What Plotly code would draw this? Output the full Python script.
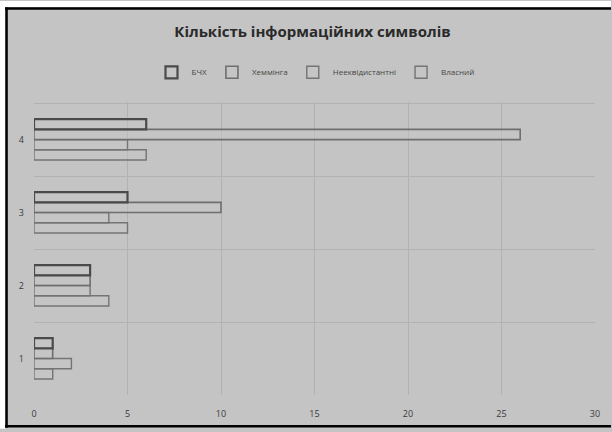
import plotly.graph_objects as go

categories = [1, 2, 3, 4]
category_labels = ["1", "2", "3", "4"]
series_names = ["БЧХ", "Хеммінга", "Нееквідистантні", "Власний"]
bch = [1, 3, 5, 6]
hamming = [1, 3, 10, 26]
nonequid = [2, 3, 4, 5]
own = [1, 4, 5, 6]
x_ticks = [0, 5, 10, 15, 20, 25, 30]

series_values = [bch, hamming, nonequid, own]
line_colors = ["#4a4a4a", "#6e6e6e", "#747474", "#747474"]
line_widths = [2.2, 1.6, 1.4, 1.4]

BG = "#c4c4c4"

fig = go.Figure()
# add in reverse so first series sits on top of each cluster
for name, vals, lc, lw in reversed(list(zip(series_names, series_values, line_colors, line_widths))):
    fig.add_trace(go.Bar(
        y=categories, x=vals, name=name, orientation="h",
        marker=dict(color="rgba(200,200,200,0.35)", line=dict(color=lc, width=lw)),
    ))

L, R, T, B = 34, 16, 102, 34
W, H = 612, 432
pw, ph = W - L - R, H - T - B


def px(p):
    return (p - L) / pw


def py(q):
    return (H - B - q) / ph


shapes = [
    dict(type="rect", xref="paper", yref="paper", x0=px(0), x1=px(W), y0=py(0), y1=py(6),
         fillcolor="white", line=dict(width=0), layer="above"),
    dict(type="rect", xref="paper", yref="paper", x0=px(0), x1=px(5), y0=py(0), y1=py(H),
         fillcolor="white", line=dict(width=0), layer="above"),
    dict(type="line", xref="paper", yref="paper", x0=px(5), x1=px(W), y0=py(7.5), y1=py(7.5),
         line=dict(color="black", width=2.5), layer="above"),
    dict(type="line", xref="paper", yref="paper", x0=px(6.5), x1=px(6.5), y0=py(6.5), y1=py(431),
         line=dict(color="black", width=2.5), layer="above"),
    dict(type="line", xref="paper", yref="paper", x0=px(5), x1=px(W), y0=py(429.5), y1=py(429.5),
         line=dict(color="black", width=2.5), layer="above"),
]

fig.update_layout(
    width=W, height=H,
    margin=dict(l=L, r=R, t=T, b=B, pad=0),
    paper_bgcolor=BG, plot_bgcolor=BG,
    font=dict(family="Open Sans", color="#3a3a3a", size=9),
    title=dict(text="<b>Кількість інформаційних символів</b>", x=px(313), xanchor="center",
               xref="paper", y=1 - 32 / H, yanchor="middle",
               font=dict(family="Open Sans", size=15, color="#2a2a2a")),
    barmode="group", bargap=0.44, bargroupgap=0,
    showlegend=True,
    legend=dict(orientation="h", x=px(316), xanchor="center", y=py(72), yanchor="middle",
                traceorder="reversed", font=dict(size=8, color="#444444"),
                bgcolor="rgba(0,0,0,0)", itemwidth=30),
    xaxis=dict(range=[0, 30], tickvals=x_ticks, ticktext=[str(v) for v in x_ticks],
               showgrid=True, gridcolor="#b2b2b2", gridwidth=1, zeroline=False,
               showline=False, ticks="", ticklabelstandoff=12, fixedrange=True),
    yaxis=dict(range=[0.5, 4.515], tickvals=categories, ticktext=category_labels,
               showgrid=False, zeroline=False, showline=False, ticks="",
               ticklabelstandoff=9,
               minor=dict(tickmode="array", tickvals=[c + 0.5 for c in categories],
                          showgrid=True, gridcolor="#b2b2b2", gridwidth=1, ticks=""),
               fixedrange=True),
    shapes=shapes,
)

fig.write_html("out.html")
